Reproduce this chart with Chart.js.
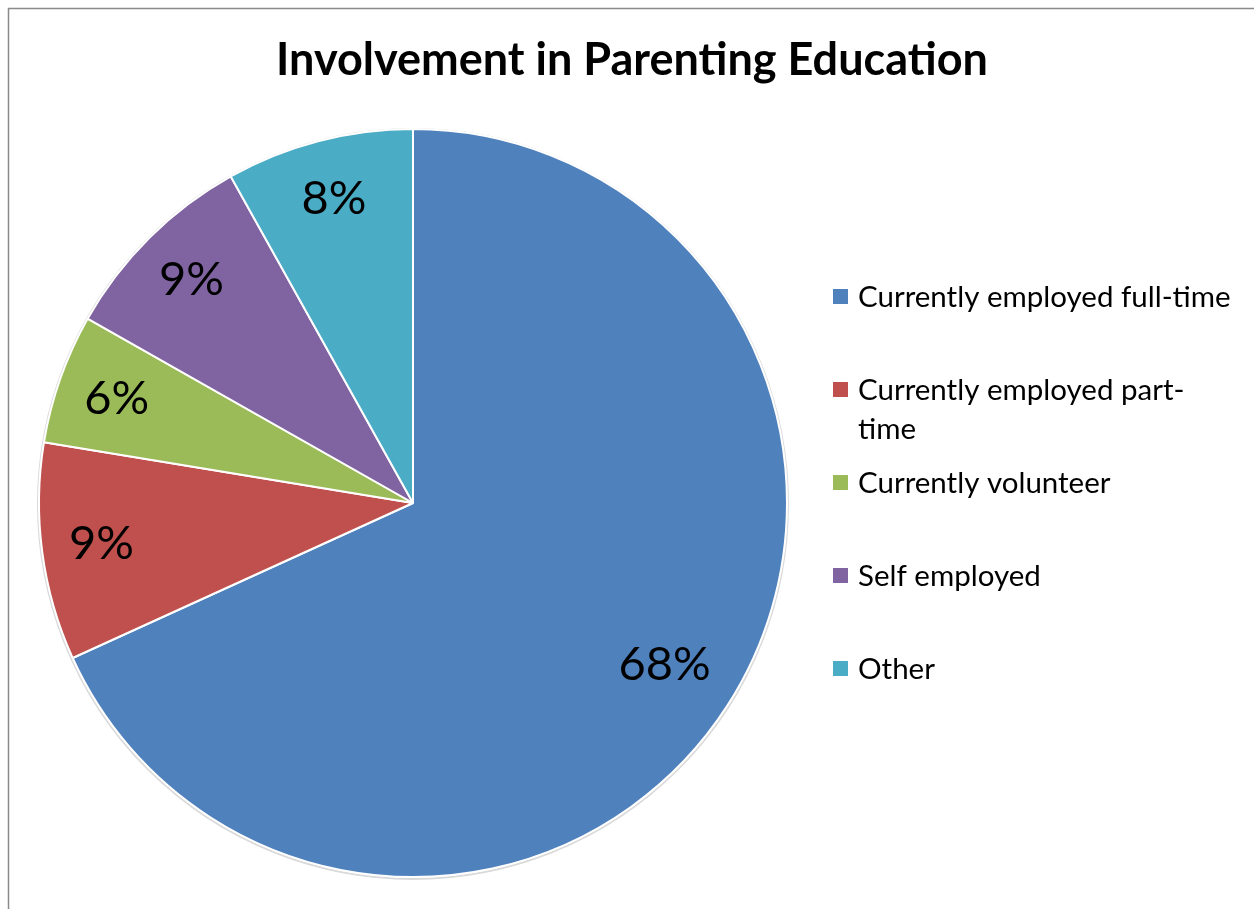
<!DOCTYPE html>
<html>
<head>
<meta charset="utf-8">
<script src="https://cdn.jsdelivr.net/npm/chart.js@4"></script>
<style>
  html, body { margin: 0; padding: 0; background: #fff; }
  #wrap { width: 1254px; height: 909px; }
</style>
</head>
<body>
<div id="wrap"><canvas id="pieCanvas" width="1254" height="909"></canvas></div>
<script>
const chartTitle = 'Involvement in Parenting Education';
const categories = ['Currently employed full-time', 'Currently employed part-time', 'Currently volunteer', 'Self employed', 'Other'];
// legend text, wrapped the way the original wraps it
const legendLines = [
    ['Currently employed full-time'],
    ['Currently employed part-', 'time'],
    ['Currently volunteer'],
    ['Self employed'],
    ['Other']
];
// share of respondents (%)
const shares = [68.2, 9.4, 5.6, 8.7, 8.1];
const sliceColors = ['#4F81BD', '#C0504D', '#9BBB59', '#8064A2', '#4BACC6'];

const decorPlugin = {
    id: 'decor',
    beforeDraw(chart) {
        const ctx = chart.ctx;
        ctx.save();
        ctx.fillStyle = '#fff';
        ctx.fillRect(0, 0, chart.width, chart.height);
        // frame (only the top and left edges are in view)
        ctx.strokeStyle = '#8a8a8a';
        ctx.lineWidth = 1.5;
        ctx.beginPath();
        ctx.moveTo(8.5, chart.height);
        ctx.lineTo(8.5, 8.5);
        ctx.lineTo(chart.width, 8.5);
        ctx.stroke();
        // title
        ctx.fillStyle = '#000';
        ctx.font = 'bold 45px Lato';
        ctx.textAlign = 'center';
        ctx.textBaseline = 'alphabetic';
        ctx.fillText(chartTitle, 632, 75);
        ctx.restore();
    },
    beforeDatasetsDraw(chart) {
        // faint halo round the pie edge
        const arc = chart.getDatasetMeta(0).data[0];
        const p = arc.getProps(['x', 'y', 'outerRadius'], true);
        const ctx = chart.ctx;
        ctx.save();
        ctx.strokeStyle = 'rgba(0,0,0,0.15)';
        ctx.lineWidth = 2;
        ctx.beginPath();
        ctx.arc(p.x, p.y + 1, p.outerRadius + 1, 0, Math.PI * 2);
        ctx.stroke();
        ctx.restore();
    },
    afterDatasetsDraw(chart) {
        const ctx = chart.ctx;
        const meta = chart.getDatasetMeta(0);
        const data = chart.data.datasets[0].data;
        const total = data.reduce((a, b) => a + b, 0);
        ctx.save();

        // percentage labels inside the slices
        ctx.fillStyle = '#000';
        ctx.font = '47px Lato';
        ctx.textAlign = 'center';
        ctx.textBaseline = 'middle';
        meta.data.forEach((arc, i) => {
            const p = arc.getProps(['x', 'y', 'startAngle', 'endAngle', 'outerRadius'], true);
            const mid = (p.startAngle + p.endAngle) / 2;
            const r = p.outerRadius * (i === 0 ? 0.8 : 0.84);
            ctx.fillText(Math.round(data[i] / total * 100) + '%', p.x + Math.cos(mid) * r, p.y + Math.sin(mid) * r);
        });

        // legend on the right
        ctx.font = '29.5px Lato';
        ctx.textAlign = 'left';
        ctx.textBaseline = 'alphabetic';
        legendLines.forEach((lines, i) => {
            const cy = 297 + i * 93;
            ctx.fillStyle = chart.data.datasets[0].backgroundColor[i];
            ctx.fillRect(833, cy - 8, 15, 15);
            ctx.fillStyle = '#000';
            lines.forEach((t, j) => {
                ctx.fillText(t, 858, cy + 10 + j * 39);
            });
        });
        ctx.restore();
    }
};

new Chart(document.getElementById('pieCanvas').getContext('2d'), {
    type: 'pie',
    data: {
        labels: categories,
        datasets: [{
            data: shares,
            backgroundColor: sliceColors,
            borderColor: '#ffffff',
            borderWidth: 2
        }]
    },
    options: {
        responsive: false,
        animation: false,
        layout: {
            padding: { left: 38, top: 128, right: 466, bottom: 31 }
        },
        plugins: {
            legend: { display: false },
            title: { display: false },
            tooltip: { enabled: false }
        }
    },
    plugins: [decorPlugin]
});
</script>
</body>
</html>
